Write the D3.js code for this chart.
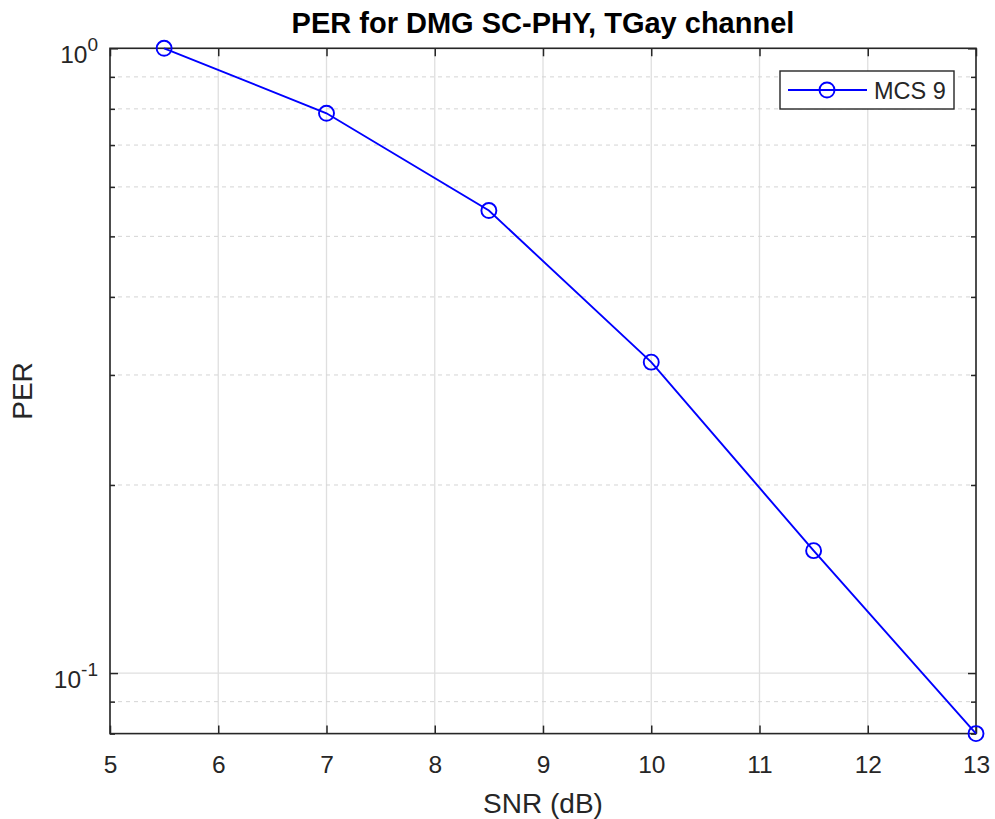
<!DOCTYPE html>
<html><head><meta charset="utf-8">
<script src="https://cdn.jsdelivr.net/npm/d3@7"></script>
<style>
body{margin:0;background:#fff;}
svg text{font-family:"Liberation Sans",Arial,Helvetica,sans-serif;}
</style></head>
<body><svg id="c" width="995" height="819"></svg>
<script>
const snr = [5.5, 7, 8.5, 10, 11.5, 13];
const per = [1.0, 0.787, 0.55, 0.3145, 0.157, 0.08];
const xTicks = [5, 6, 7, 8, 9, 10, 11, 12, 13];
const yMajor = [0.1, 1];
const yMinor = [0.08, 0.09, 0.2, 0.3, 0.4, 0.5, 0.6, 0.7, 0.8, 0.9];
const yTickLabels = [{base: "10", exp: "-1"}, {base: "10", exp: "0"}];
const xDomain = [5, 13];
const yDomain = [0.08, 1];
const seriesName = "MCS 9";
const titleText = "PER for DMG SC-PHY, TGay channel";

const L = 110, R = 976, T = 48.3, B = 733.6;
const svg = d3.select("#c");
const x = d3.scaleLinear().domain(xDomain).range([L, R]);
const y = d3.scaleLog().domain(yDomain).range([B, T]);
const axisCol = "#262626";

// grid
const g = svg.append("g");
g.selectAll(".vg").data(xTicks).join("line")
  .attr("x1", d => x(d)).attr("x2", d => x(d)).attr("y1", T).attr("y2", B)
  .attr("stroke", "#dfdfdf").attr("stroke-width", 1.3);
g.selectAll(".hg").data(yMajor).join("line")
  .attr("x1", L).attr("x2", R).attr("y1", d => y(d)).attr("y2", d => y(d))
  .attr("stroke", "#dfdfdf").attr("stroke-width", 1.3);
g.selectAll(".mg").data(yMinor.filter(v => v > yDomain[0])).join("line")
  .attr("x1", L).attr("x2", R).attr("y1", d => y(d)).attr("y2", d => y(d))
  .attr("stroke", "#d4d4d4").attr("stroke-width", 1).attr("stroke-dasharray", "4,4");

// axes via d3 axis (inward ticks)
const xb = svg.append("g").attr("transform", `translate(0,${B})`)
  .call(d3.axisBottom(x).tickValues(xTicks).tickSizeInner(-8).tickSizeOuter(0).tickPadding(22).tickFormat(d3.format("d")));
const xt = svg.append("g").attr("transform", `translate(0,${T})`)
  .call(d3.axisTop(x).tickValues(xTicks).tickSizeInner(-8).tickSizeOuter(0).tickFormat(""));
const yl = svg.append("g").attr("transform", `translate(${L},0)`)
  .call(d3.axisLeft(y).tickValues(yMajor).tickSizeInner(-8).tickSizeOuter(0).tickFormat(""));
const yr = svg.append("g").attr("transform", `translate(${R},0)`)
  .call(d3.axisRight(y).tickValues(yMajor).tickSizeInner(-8).tickSizeOuter(0).tickFormat(""));
const ylm = svg.append("g").attr("transform", `translate(${L},0)`)
  .call(d3.axisLeft(y).tickValues(yMinor).tickSizeInner(-5).tickSizeOuter(0).tickFormat(""));
const yrm = svg.append("g").attr("transform", `translate(${R},0)`)
  .call(d3.axisRight(y).tickValues(yMinor).tickSizeInner(-5).tickSizeOuter(0).tickFormat(""));
[xb, xt, yl, yr, ylm, yrm].forEach(a => {
  a.select(".domain").remove();
  a.selectAll(".tick line").attr("stroke", axisCol).attr("stroke-width", 1.5);
});
xb.selectAll(".tick text").attr("fill", axisCol).attr("font-size", 24.5)
  .attr("font-family", "Liberation Sans, Arial, sans-serif");

// box
svg.append("rect").attr("x", L).attr("y", T).attr("width", R - L).attr("height", B - T)
  .attr("fill", "none").attr("stroke", axisCol).attr("stroke-width", 1.6);

// y tick labels with superscripts
yMajor.forEach((v, i) => {
  const t = svg.append("text").attr("x", L - 12).attr("y", y(v) + 15)
    .attr("text-anchor", "end").attr("fill", axisCol).attr("font-size", 24.5);
  t.append("tspan").text(yTickLabels[i].base);
  t.append("tspan").attr("dy", -12).attr("font-size", 19).text(yTickLabels[i].exp);
});

// line + markers
const data = snr.map((s, i) => ({s, p: per[i]}));
svg.append("path").datum(data)
  .attr("d", d3.line().x(d => x(d.s)).y(d => y(d.p)))
  .attr("fill", "none").attr("stroke", "#0000ff").attr("stroke-width", 1.9);
svg.selectAll(".m").data(data).join("circle")
  .attr("cx", d => x(d.s)).attr("cy", d => y(d.p)).attr("r", 7.5)
  .attr("fill", "none").attr("stroke", "#0000ff").attr("stroke-width", 1.9);

// title and labels
svg.append("text").attr("x", (L + R) / 2).attr("y", 33).attr("text-anchor", "middle")
  .attr("font-size", 29).attr("font-weight", "bold").attr("fill", "#000").text(titleText);
svg.append("text").attr("x", (L + R) / 2).attr("y", 813).attr("text-anchor", "middle")
  .attr("font-size", 28).attr("fill", axisCol).text("SNR (dB)");
svg.append("text").attr("transform", `translate(32,${(T + B) / 2}) rotate(-90)`)
  .attr("text-anchor", "middle").attr("font-size", 28).attr("fill", axisCol).text("PER");

// legend
const lg = svg.append("g");
lg.append("rect").attr("x", 780).attr("y", 71).attr("width", 174).attr("height", 38)
  .attr("fill", "#fff").attr("stroke", axisCol).attr("stroke-width", 1.4);
lg.append("line").attr("x1", 788).attr("x2", 867).attr("y1", 90).attr("y2", 90)
  .attr("stroke", "#0000ff").attr("stroke-width", 1.9);
lg.append("circle").attr("cx", 827).attr("cy", 90).attr("r", 7.5)
  .attr("fill", "none").attr("stroke", "#0000ff").attr("stroke-width", 1.9);
lg.append("text").attr("x", 874).attr("y", 98.5).attr("font-size", 23.5).attr("fill", axisCol).text(seriesName);
</script></body></html>
